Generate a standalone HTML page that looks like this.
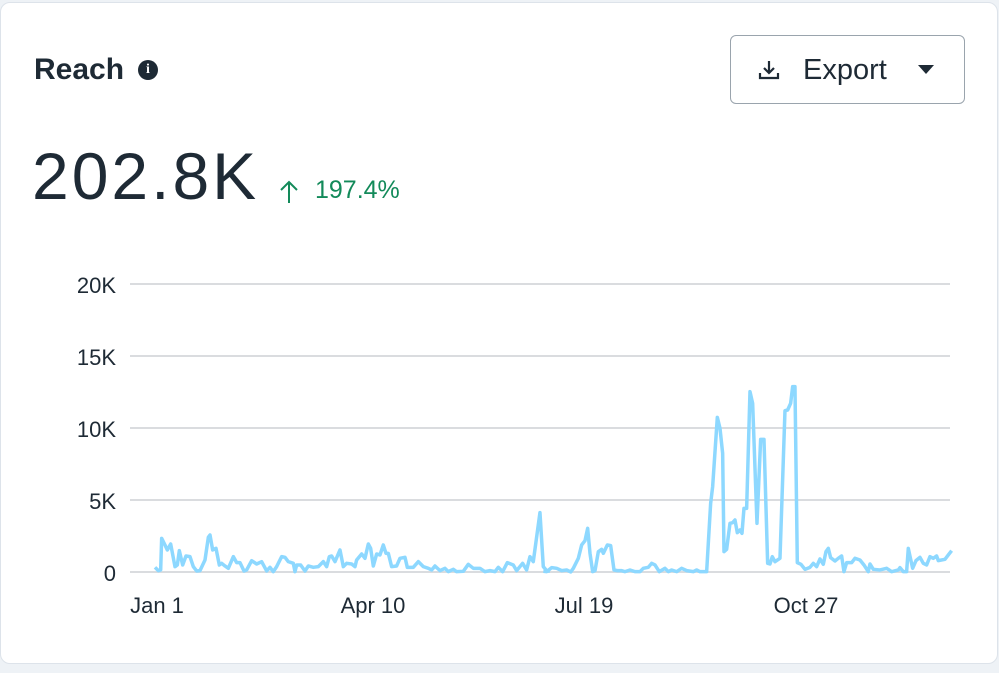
<!DOCTYPE html>
<html><head><style>
body{margin:0;width:999px;height:673px;background:#eef2f6;font-family:"Liberation Sans",sans-serif;overflow:hidden;position:relative}
.card{position:absolute;left:0;top:2px;width:996px;height:660px;background:#fff;border:1px solid #dde3ea;border-radius:10px}
.t{position:absolute;color:#1e2a35;white-space:nowrap}
</style></head><body>
<div class="card"></div>
<div class="t" style="left:34px;top:53px;font-size:30px;font-weight:bold">Reach</div>
<div style="position:absolute;left:138px;top:60px;width:20px;height:20px;border-radius:50%;background:#1e2a35;color:#fff;font:bold 14px 'Liberation Serif',serif;text-align:center;line-height:20px">i</div>
<div style="position:absolute;left:730px;top:35px;width:235px;height:69px;border:1.5px solid #9aa4ad;border-radius:6px;box-sizing:border-box"></div>
<svg style="position:absolute;left:757px;top:58px" width="24" height="24" viewBox="0 0 24 24"><path d="M12 3v12M7 10l5 5 5-5M3 15v5h18v-5" fill="none" stroke="#1e2a35" stroke-width="2.2"/></svg>
<div class="t" style="left:803px;top:54px;font-size:29px">Export</div>
<svg style="position:absolute;left:917px;top:64px" width="18" height="12"><path d="M1 1h16L9 10z" fill="#1e2a35"/></svg>
<div class="t" style="left:32px;top:138px;font-size:66px;letter-spacing:3px">202.8K</div>
<svg style="position:absolute;left:278px;top:180px" width="22" height="24"><path d="M11 2v21M3 10l8-8 8 8" fill="none" stroke="#138a5a" stroke-width="2"/></svg>
<div class="t" style="left:315px;top:176px;font-size:25px;color:#138a5a">197.4%</div>
<svg style="position:absolute;left:0;top:0" width="999" height="673">
<g stroke="#dadcdf" stroke-width="2">
<line x1="130" x2="950" y1="284" y2="284"/><line x1="130" x2="950" y1="356" y2="356"/><line x1="130" x2="950" y1="428" y2="428"/><line x1="130" x2="950" y1="500" y2="500"/><line x1="130" x2="950" y1="572" y2="572"/></g>
<g font-size="22" fill="#1e2a35" text-anchor="end">
<text x="116" y="293">20K</text><text x="116" y="365">15K</text><text x="116" y="437">10K</text><text x="116" y="509">5K</text><text x="116" y="581">0</text></g>
<g font-size="22" fill="#1e2a35" text-anchor="middle">
<text x="157" y="613">Jan 1</text><text x="373" y="613">Apr 10</text><text x="584" y="613">Jul 19</text><text x="806" y="613">Oct 27</text></g>
<g fill="none" stroke="#8dd8ff" stroke-width="3.5" stroke-linejoin="round">
<polyline vector-effect="non-scaling-stroke" transform="translate(130,380) scale(0.3333)" points="75,562 85,572 92,570 95,475 105,495 112,510 122,492 135,560 142,555 148,512 158,555 168,528 180,530 190,560 200,573 210,572 225,540 235,472 240,465 248,510 258,505 268,555 275,550 285,558 295,565 310,530 320,548 330,548 342,573 350,570 365,542 380,552 395,545 410,573 420,562 430,575 440,560 455,530 465,532 475,545 490,550 495,575 500,555 512,555 525,573 535,558 550,562 565,560 580,545 590,560 598,530 605,528 615,545 630,510 640,560 650,550 665,552 675,560 680,540 695,522 705,535 715,492 722,505 730,558 740,522 750,525 760,495 768,520 775,520 785,560 800,558 810,535 825,532 832,562 850,562 865,545 880,560 895,565 905,570 915,558 930,572 945,565 955,575 970,568 980,575 1000,574 1015,553 1030,565 1050,565 1065,575 1080,572 1095,575 1105,562 1118,575 1132,548 1150,555 1160,572 1178,550 1190,570 1200,530 1210,545 1230,398 1240,560 1250,572 1260,574"/>
<polyline vector-effect="non-scaling-stroke" transform="translate(540,380) scale(0.3333)" points="10,574 20,575 35,563 50,565 65,572 80,570 92,576 100,565 115,535 125,495 135,482 143,445 150,520 158,575 165,572 175,515 185,508 190,520 202,495 212,497 222,570 232,572 245,572 255,575 270,570 285,575 300,575 310,565 325,562 335,550 345,555 358,575 375,565 385,575 395,570 410,575 425,565 440,572 460,575 470,570 480,575 500,575 512,370 518,320 532,112 540,145 548,220 552,515 560,508 570,430 578,428 585,420 592,458 600,450 606,460 612,385 620,385 630,35 638,70 651,430 662,178 672,178 683,550 690,552 697,530 705,545 720,535 735,92 743,90 752,70 758,20 765,20 772,548 783,553 795,568 810,562 820,550 830,560 840,537 850,553 858,515 865,505 872,533 885,543 895,535 905,528 912,575 920,548 935,548 945,535 960,540 972,555 985,575 990,552 1000,568 1020,570 1040,565 1055,575 1075,570 1080,563 1090,575 1100,575 1105,505 1118,565 1128,542 1140,532 1150,550 1160,555 1170,530 1180,535 1190,528 1195,542 1215,538 1225,525 1235,512"/>
</g></svg>
</body></html>
